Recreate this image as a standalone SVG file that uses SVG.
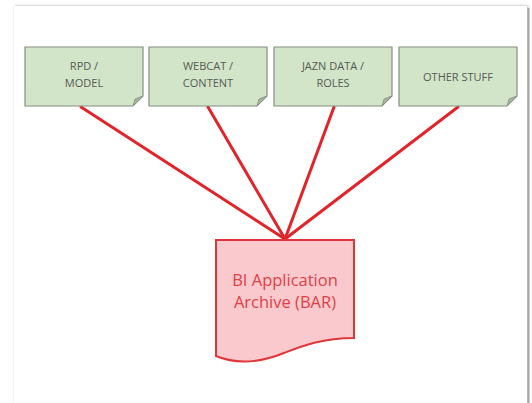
<svg xmlns="http://www.w3.org/2000/svg" width="532" height="403" viewBox="0 0 532 403">
  <style>
    .note { fill: #d3e5c8; stroke: #848f80; stroke-width: 1.2; }
    .fold { fill: #a5b39f; stroke: #848f80; stroke-width: 0.8; }
    .lbl { font-family: "Open Sans", "Liberation Sans", sans-serif; font-size: 11px; fill: #555a56; text-anchor: middle; }
    .link { stroke: #e0242a; stroke-width: 3; stroke-linecap: round; fill: none; }
    .doc { fill: #f9c9cd; stroke: #e0353a; stroke-width: 2; }
    .doclbl { font-family: "Open Sans", "Liberation Sans", sans-serif; font-size: 16.5px; fill: #de3f47; text-anchor: middle; }
  </style>
  <defs>
    <filter id="panelShadow" x="-5%" y="-5%" width="110%" height="110%">
      <feGaussianBlur in="SourceAlpha" stdDeviation="1.5"/>
      <feOffset dx="1" dy="0"/>
      <feComponentTransfer><feFuncA type="linear" slope="0.35"/></feComponentTransfer>
      <feMerge><feMergeNode/><feMergeNode in="SourceGraphic"/></feMerge>
    </filter>
  </defs>

  <rect x="0" y="0" width="532" height="403" fill="#ffffff"/>
  <!-- page panel -->
  <rect x="14" y="6" width="513" height="410" fill="#ffffff" filter="url(#panelShadow)"/>
  <line x1="528.5" y1="8" x2="528.5" y2="403" stroke="#a6a6a6" stroke-width="2"/>

  <!-- connectors -->
  <g id="connectors">
    <line class="link" x1="81" y1="107" x2="285" y2="239"/>
    <line class="link" x1="208" y1="107" x2="285" y2="239"/>
    <line class="link" x1="334" y1="107" x2="285" y2="239"/>
    <line class="link" x1="458" y1="107" x2="285" y2="239"/>
  </g>

  <g id="rpd-model">
    <path class="note" d="M25,47 H143 V96 L133,106 H25 Z"/>
    <path class="fold" d="M133,106 L143,96 L135,99 Z"/>
    <text class="lbl" x="84" y="70">RPD /</text>
    <text class="lbl" x="84" y="87">MODEL</text>
  </g>

  <g id="webcat-content">
    <path class="note" d="M149,47 H267 V96 L257,106 H149 Z"/>
    <path class="fold" d="M257,106 L267,96 L259,99 Z"/>
    <text class="lbl" x="208" y="70">WEBCAT /</text>
    <text class="lbl" x="208" y="87">CONTENT</text>
  </g>

  <g id="jazn-roles">
    <path class="note" d="M274,47 H392 V96 L382,106 H274 Z"/>
    <path class="fold" d="M382,106 L392,96 L384,99 Z"/>
    <text class="lbl" x="333" y="70">JAZN DATA /</text>
    <text class="lbl" x="333" y="87">ROLES</text>
  </g>

  <g id="other-stuff">
    <path class="note" d="M399,47 H517 V96 L507,106 H399 Z"/>
    <path class="fold" d="M507,106 L517,96 L509,99 Z"/>
    <text class="lbl" x="458" y="81">OTHER STUFF</text>
  </g>

  <g id="bar-archive">
    <path class="doc" d="M216,240 H354 V338 C322,338 302,346 284,353 C264,361 240,366 216,356 Z"/>
    <text class="doclbl" x="285" y="286">BI Application</text>
    <text class="doclbl" x="285" y="308">Archive (BAR)</text>
  </g>
</svg>
